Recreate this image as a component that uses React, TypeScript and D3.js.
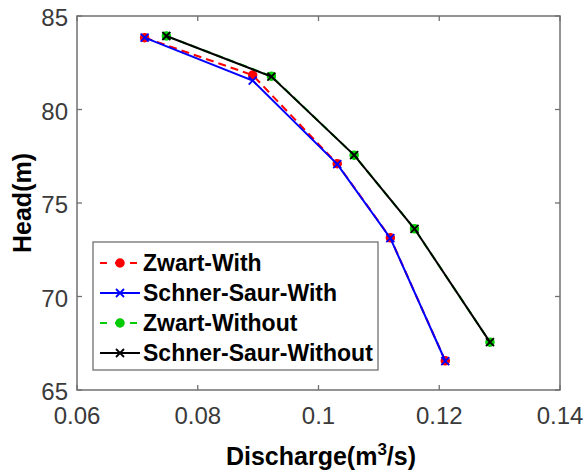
import React from "react";
import * as d3 from "d3";

// Discharge (m³/s) and head (m) for each configuration
const zwartWithQ = [0.0712, 0.0891, 0.1031, 0.1119, 0.121];
const zwartWithH = [83.84, 81.84, 77.1, 73.14, 66.56];
const schnerWithQ = [0.0712, 0.0891, 0.1031, 0.1119, 0.121];
const schnerWithH = [83.84, 81.55, 77.08, 73.12, 66.55];
const zwartWithoutQ = [0.0748, 0.0922, 0.1059, 0.1159, 0.1284];
const zwartWithoutH = [83.93, 81.78, 77.56, 73.62, 67.56];
const schnerWithoutQ = [0.0748, 0.0922, 0.1059, 0.1159, 0.1284];
const schnerWithoutH = [83.93, 81.76, 77.56, 73.62, 67.56];

const xTicks = [0.06, 0.08, 0.1, 0.12, 0.14];
const yTicks = [65, 70, 75, 80, 85];

const seriesNames = ["Zwart-With", "Schner-Saur-With", "Zwart-Without", "Schner-Saur-Without"];
const seriesColors = ["#ff0000", "#0000ff", "#00cc00", "#000000"];
const seriesDashed = [true, false, true, false];
const seriesMarker = ["o", "x", "o", "x"];

const W = 584;
const H = 473;
const plot = { left: 77, right: 560, top: 16, bottom: 390 };

export default function App() {
  const x = d3.scaleLinear().domain([0.06, 0.14]).range([plot.left, plot.right]);
  const y = d3.scaleLinear().domain([65, 85]).range([plot.bottom, plot.top]);

  const data = [
    [zwartWithQ, zwartWithH],
    [schnerWithQ, schnerWithH],
    [zwartWithoutQ, zwartWithoutH],
    [schnerWithoutQ, schnerWithoutH],
  ];

  const line = d3
    .line<[number, number]>()
    .x((d) => x(d[0]))
    .y((d) => y(d[1]));

  const axisColor = "#707070";
  const labelColor = "#3a3a3a";
  const font = "'Liberation Sans', Arial, sans-serif";

  const marker = (kind: string, cx: number, cy: number, color: string, key: string | number) => {
    if (kind === "o") {
      return <circle key={key} cx={cx} cy={cy} r={4} fill={color} stroke={color} strokeWidth={1.5} />;
    }
    const s = 4;
    return (
      <path
        key={key}
        d={`M${cx - s},${cy - s}L${cx + s},${cy + s}M${cx - s},${cy + s}L${cx + s},${cy - s}`}
        stroke={color}
        strokeWidth={1.8}
        fill="none"
      />
    );
  };

  const legend = { x: 93, y: 242, w: 285, h: 128, row0: 263, step: 30 };

  return (
    <svg width={W} height={H} style={{ position: "absolute", left: 0, top: 0, background: "#fff" }} fontFamily={font}>
      {/* series */}
      {data.map(([qs, hs], i) => {
        const pts = qs.map((q, k) => [q, hs[k]] as [number, number]);
        return (
          <g key={i}>
            <path
              d={line(pts) || ""}
              fill="none"
              stroke={seriesColors[i]}
              strokeWidth={2}
              strokeDasharray={seriesDashed[i] ? "8,5" : undefined}
            />
            {pts.map((p, k) => marker(seriesMarker[i], x(p[0]), y(p[1]), seriesColors[i], k))}
          </g>
        );
      })}

      {/* axes box */}
      <rect
        x={plot.left}
        y={plot.top}
        width={plot.right - plot.left}
        height={plot.bottom - plot.top}
        fill="none"
        stroke={axisColor}
        strokeWidth={1.5}
      />
      {xTicks.map((t) => (
        <g key={"x" + t}>
          <line x1={x(t)} x2={x(t)} y1={plot.bottom} y2={plot.bottom - 5} stroke={axisColor} strokeWidth={1.3} />
          <line x1={x(t)} x2={x(t)} y1={plot.top} y2={plot.top + 5} stroke={axisColor} strokeWidth={1.3} />
          <text x={x(t)} y={424} textAnchor="middle" fontSize={24} fill={labelColor}>
            {String(t)}
          </text>
        </g>
      ))}
      {yTicks.map((t) => (
        <g key={"y" + t}>
          <line x1={plot.left} x2={plot.left + 5} y1={y(t)} y2={y(t)} stroke={axisColor} strokeWidth={1.3} />
          <line x1={plot.right} x2={plot.right - 5} y1={y(t)} y2={y(t)} stroke={axisColor} strokeWidth={1.3} />
          <text x={68} y={y(t) + 10} textAnchor="end" fontSize={24} fill={labelColor}>
            {t}
          </text>
        </g>
      ))}

      {/* axis titles */}
      <text x={321} y={465} textAnchor="middle" fontSize={25} fontWeight="bold" fill="#000">
        Discharge(m
        <tspan dy={-10} fontSize={17}>3</tspan>
        <tspan dy={10}>/s)</tspan>
      </text>
      <text
        transform={`translate(31,${(plot.top + plot.bottom) / 2}) rotate(-90)`}
        textAnchor="middle"
        fontSize={25}
        fontWeight="bold"
        fill="#000"
      >
        Head(m)
      </text>

      {/* legend */}
      <rect x={legend.x} y={legend.y} width={legend.w} height={legend.h} fill="#fff" stroke={axisColor} strokeWidth={1.3} />
      {seriesNames.map((name, i) => {
        const cy = legend.row0 + i * legend.step;
        return (
          <g key={name}>
            <line
              x1={100}
              x2={140}
              y1={cy}
              y2={cy}
              stroke={seriesColors[i]}
              strokeWidth={2}
              strokeDasharray={seriesDashed[i] ? "7,8" : undefined}
            />
            {marker(seriesMarker[i], 120, cy, seriesColors[i], "m")}
            <text x={143} y={cy + 8} fontSize={23} fontWeight="bold" fill="#000">
              {name}
            </text>
          </g>
        );
      })}
    </svg>
  );
}
